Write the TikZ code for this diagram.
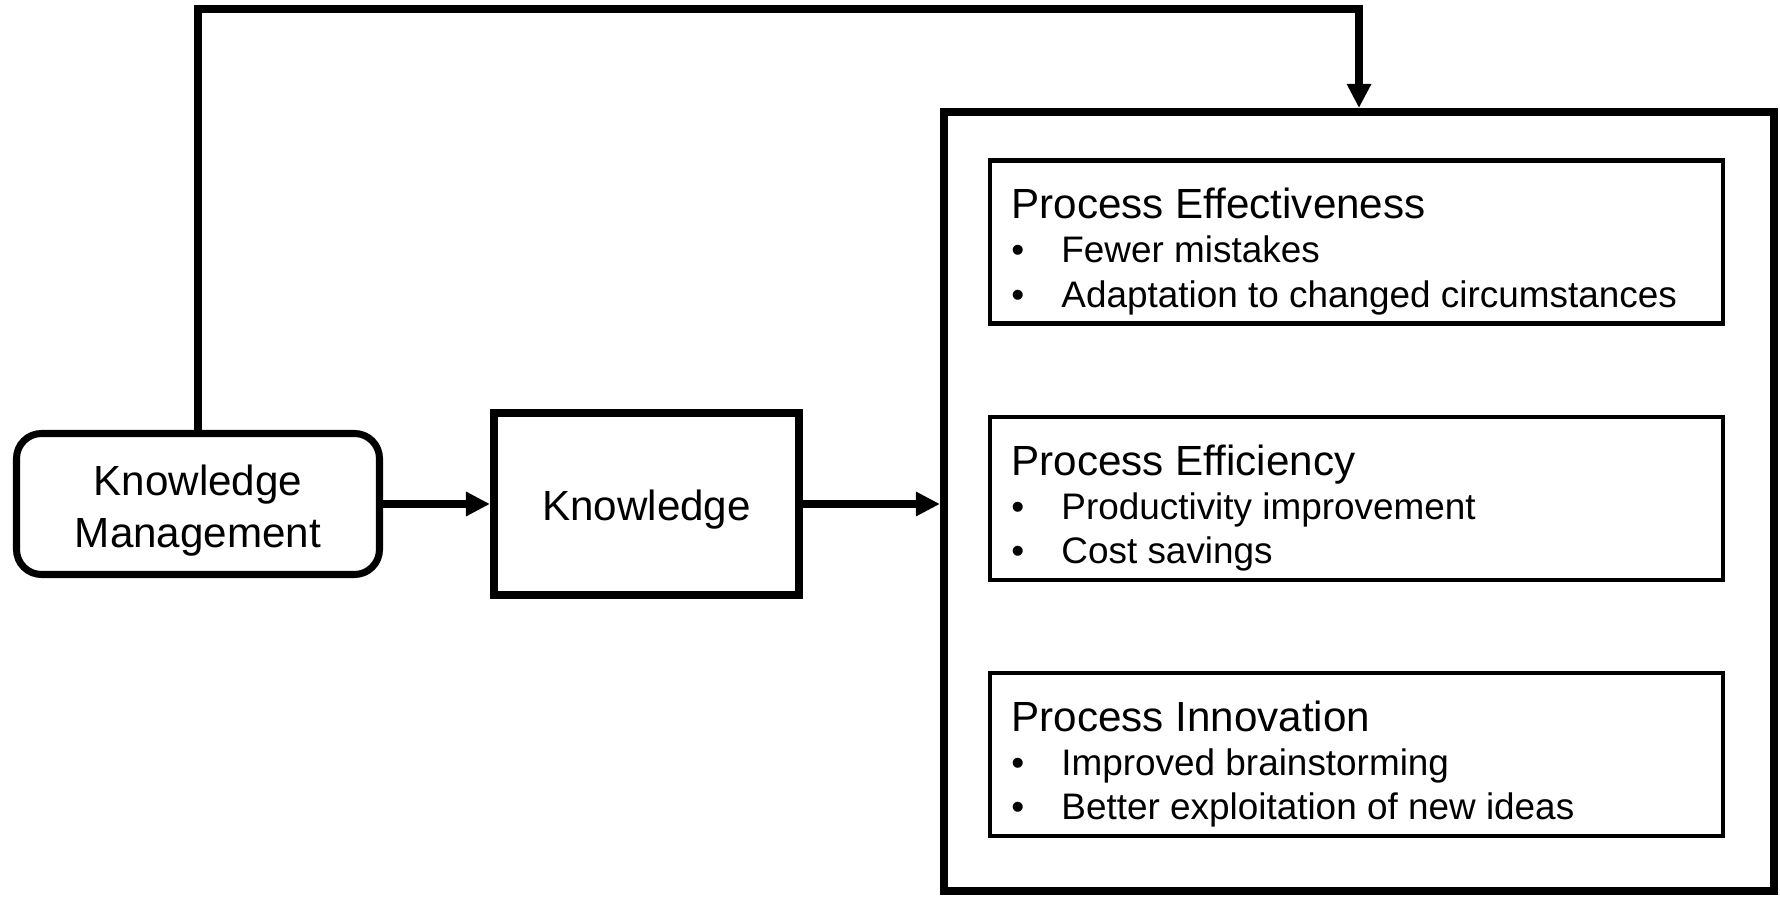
\documentclass[tikz,border=0pt]{standalone}
\usepackage{fontspec}
\setmainfont{Liberation Sans}
\usetikzlibrary{arrows.meta}
\newcommand\boxtitle[1]{{\fontsize{12}{12.8}\selectfont #1}}
\newcommand\bitem{\makebox[5mm][l]{\textbullet}}
\tikzset{
  heavy/.style={draw, line width=2.3pt, inner sep=0pt},
  arr/.style={line width=2.3pt, -{Triangle[length=2.4mm,width=2.3mm]}},
  listbox/.style={draw, line width=1.3pt, minimum width=73.3mm, minimum height=16.3mm},
  listtext/.style={anchor=base west, inner sep=0pt, align=left, font=\fontsize{10.5}{12.6}\selectfont}
}
\begin{document}
\begin{tikzpicture}[x=0.1mm, y=-0.1mm]
	\useasboundingbox (0,0) rectangle (1780,898);
	\coordinate (top) at (0,9);
	\node[heavy, line width=2pt, rounded corners=2.5mm, minimum width=36.3mm, minimum height=14.1mm,
		align=center, text height=27pt, font=\fontsize{12}{14.8}\selectfont] (km) at (198,504) {Knowledge\\Management};
	\node[heavy, minimum width=30.5mm, minimum height=18.2mm, text height=12.1pt,
		font=\fontsize{12}{14.8}\selectfont] (know) at (646.5,504) {Knowledge};
	\node[heavy, minimum width=83mm, minimum height=77.9mm] (res) at (1359,501.5) {};
	\foreach \n/\y/\t/\a/\b in {eff/242/Process Effectiveness/Fewer mistakes/Adaptation to changed circumstances,
		effi/498.5/Process Efficiency/Productivity improvement/Cost savings,
		inno/754.5/Process Innovation/Improved brainstorming/Better exploitation of new ideas}{
		\node[listbox] (\n) at (1356.5,\y) {};
		\node[listtext] (\n txt) at ([shift={(23,149)}]\n.north west) {\boxtitle{\t}\\ \bitem\a\\ \bitem\b};
	}
	\draw[arr] (km) -- (know);
	\draw[arr] (know) -- (know -| res.west);
	\draw[arr] (km.north) -- (km.north |- top) -| (res.north);
\end{tikzpicture}
\end{document}
